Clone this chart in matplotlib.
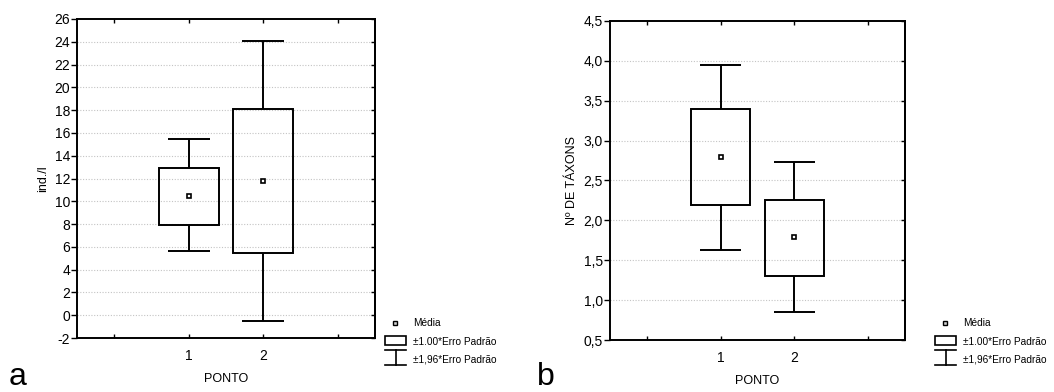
import numpy as np
import matplotlib.pyplot as plt
from matplotlib.lines import Line2D
from matplotlib.patches import Rectangle

plt.rcParams['font.family'] = ['Liberation Sans', 'DejaVu Sans']

pontos = [1, 2]
point_labels = ["1", "2"]

# panel a: ind./l
dens_mean = [10.5, 11.75]
dens_se_low = [7.9, 5.45]
dens_se_high = [12.95, 18.06]
dens_ci_low = [5.6, -0.54]
dens_ci_high = [15.43, 24.07]

# panel b: number of taxa
taxa_mean = [2.79, 1.79]
taxa_se_low = [2.19, 1.30]
taxa_se_high = [3.40, 2.26]
taxa_ci_low = [1.63, 0.855]
taxa_ci_high = [3.95, 2.73]

W, H = 1054, 392


def fig_rect(x0, y0, x1, y1):
    return [x0 / W, 1 - y1 / H, (x1 - x0) / W, (y1 - y0) / H]


def draw_panel(ax, mean, se_lo, se_hi, ci_lo, ci_hi, ylim, yticks, ytick_labels,
               grid_vals, ylabel, ylabelpad):
    x = np.array(pontos, dtype=float)
    for val in grid_vals:
        ax.axhline(val, color="#c4c4c4", lw=0.8, linestyle=(0, (1, 1.5)), zorder=0)
    se_lo = np.array(se_lo)
    se_hi = np.array(se_hi)
    ax.bar(x, se_hi - se_lo, bottom=se_lo, width=0.8, fill=False,
           edgecolor="black", linewidth=1.4, zorder=3)
    ax.vlines(x, ci_lo, se_lo, color="black", lw=1.4, zorder=3)
    ax.vlines(x, se_hi, ci_hi, color="black", lw=1.4, zorder=3)
    ax.hlines(ci_lo, x - 0.28, x + 0.28, color="black", lw=1.4, zorder=3)
    ax.hlines(ci_hi, x - 0.28, x + 0.28, color="black", lw=1.4, zorder=3)
    ax.plot(x, mean, linestyle="none", marker="s", markersize=3.5,
            markerfacecolor="white", markeredgecolor="black", markeredgewidth=1.2, zorder=4)

    ax.set_xlim(-0.5, 3.5)
    ax.set_ylim(*ylim)
    ax.set_xticks([0, 1, 2, 3])
    ax.set_xticklabels(["", point_labels[0], point_labels[1], ""])
    ax.set_yticks(yticks)
    ax.set_yticklabels(ytick_labels)
    ax.tick_params(axis="y", which="major", left=True, right=False, direction="out",
                   length=4, width=1, labelsize=10, pad=1)
    ax.tick_params(axis="x", direction="in", length=3, width=1, labelsize=10, pad=8,
                   top=True)
    # inward ticks on the right spine
    ax2 = ax.secondary_yaxis("right")
    ax2.set_yticks(yticks)
    ax2.tick_params(direction="in", length=3, width=1, labelright=False)
    ax2.spines["right"].set_linewidth(1.4)
    for s in ax.spines.values():
        s.set_linewidth(1.4)
    ax.set_xlabel("PONTO", fontsize=9, labelpad=7)
    ax.set_ylabel(ylabel, fontsize=9, labelpad=ylabelpad)


def draw_legend(fig, x0, y0):
    # x0, y0: pixel position of the mean marker row
    fx = lambda px: px / W
    fy = lambda py: 1 - py / H
    fig.add_artist(Line2D([fx(x0 + 10)], [fy(y0)], marker="s", markersize=3,
                          markerfacecolor="#d0d0d0", markeredgecolor="black",
                          markeredgewidth=1.0, linestyle="none"))
    fig.text(fx(x0 + 28), fy(y0), "Média", fontsize=7.3, va="center", ha="left")
    fig.add_artist(Rectangle((fx(x0), fy(y0 + 22)), 21 / W, 9 / H, fill=False,
                             edgecolor="black", lw=1.2, transform=fig.transFigure))
    fig.text(fx(x0 + 28), fy(y0 + 19), "±1.00*Erro Padrão", fontsize=7.3, va="center", ha="left")
    fig.add_artist(Line2D([fx(x0), fx(x0 + 21)], [fy(y0 + 27), fy(y0 + 27)], color="black", lw=1.2))
    fig.add_artist(Line2D([fx(x0 + 10.5), fx(x0 + 10.5)], [fy(y0 + 27), fy(y0 + 42)], color="black", lw=1.2))
    fig.add_artist(Line2D([fx(x0), fx(x0 + 21)], [fy(y0 + 42), fy(y0 + 42)], color="black", lw=1.2))
    fig.text(fx(x0 + 28), fy(y0 + 36), "±1,96*Erro Padrão", fontsize=7.3, va="center", ha="left")


fig = plt.figure(figsize=(10.54, 3.92), dpi=100)

ax_a = fig.add_axes(fig_rect(77, 19, 375, 338))
a_ticks = list(range(-2, 27, 2))
draw_panel(ax_a, dens_mean, dens_se_low, dens_se_high, dens_ci_low, dens_ci_high,
           (-2, 26), a_ticks, [str(t) for t in a_ticks], list(range(0, 25, 2)), "ind./l", 4)

ax_b = fig.add_axes(fig_rect(610, 21, 905, 340))
b_ticks = [0.5, 1.0, 1.5, 2.0, 2.5, 3.0, 3.5, 4.0, 4.5]
draw_panel(ax_b, taxa_mean, taxa_se_low, taxa_se_high, taxa_ci_low, taxa_ci_high,
           (0.5, 4.5), b_ticks, [f"{t:.1f}".replace(".", ",") for t in b_ticks],
           [1.0, 1.5, 2.0, 2.5, 3.0, 3.5, 4.0], "Nº DE TÁXONS", 4)

draw_legend(fig, 385, 323)
draw_legend(fig, 935, 323)

fig.text(9 / W, 1 - 385 / H, "a", fontsize=23, ha="left", va="baseline")
fig.text(537 / W, 1 - 385 / H, "b", fontsize=23, ha="left", va="baseline")

fig.savefig("out.png", dpi=100)
